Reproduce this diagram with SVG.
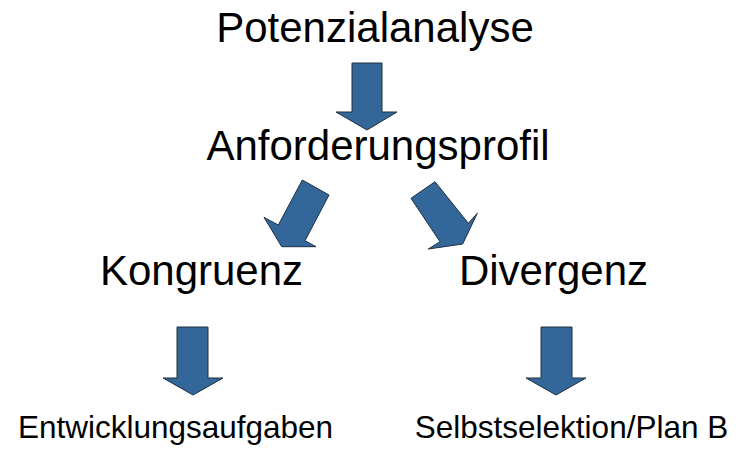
<svg xmlns="http://www.w3.org/2000/svg" width="736" height="452" viewBox="0 0 736 452">
<style>
.t{font-family:"Liberation Sans",Arial,sans-serif;fill:#000;text-anchor:middle}
.big{font-size:42px}
.small{font-size:31.5px}
.arr{fill:#336699;stroke:#1f2f3f;stroke-width:1;stroke-linejoin:miter}
</style>
<rect width="736" height="452" fill="#fff"/>
<g id="n1"><text class="t big" x="375" y="42">Potenzialanalyse</text></g>
<g id="n2"><text class="t big" x="378" y="160">Anforderungsprofil</text></g>
<g id="n3"><text class="t big" x="201.5" y="285">Kongruenz</text></g>
<g id="n4"><text class="t big" x="553.5" y="285">Divergenz</text></g>
<g id="n5"><text class="t small" x="175.5" y="438">Entwicklungsaufgaben</text></g>
<g id="n6"><text class="t small" x="571.5" y="438">Selbstselektion/Plan B</text></g>
<g id="connectors">
<polygon class="arr" points="352,63 382,63 382,112 397,112 367,130 336,112 352,112"/>
<polygon class="arr" points="302.3,180 329,195 305,240.7 316,246.7 281.7,246.7 264,217.3 278.3,225"/>
<polygon class="arr" points="435,181.7 411,198.3 440,241.7 428.3,249 462.7,244 477.3,213.3 468.3,223.3"/>
<polygon class="arr" points="177,327 208,327 208,378 223,378 193,395 163,378 177,378"/>
<polygon class="arr" points="541,327 572,327 572,378 586,378 556,395 526,378 541,378"/>
</g>
</svg>
